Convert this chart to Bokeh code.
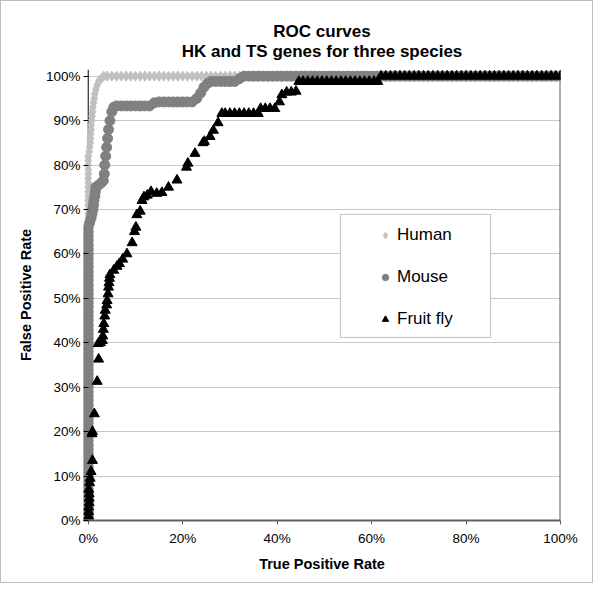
from bokeh.plotting import figure
from bokeh.models import (Range1d, FixedTicker, PrintfTickFormatter, Title, Legend,
                          LegendItem, Span, BoxAnnotation)
from bokeh.embed import file_html
from bokeh.resources import INLINE

# ---------------- data (percent) ----------------
SERIES = ["Human", "Mouse", "Fruit fly"]
TITLE_LINES = ["ROC curves", "HK and TS genes for three species"]
X_TICKS = [0, 20, 40, 60, 80, 100]
Y_TICKS = [0, 10, 20, 30, 40, 50, 60, 70, 80, 90, 100]

human_tpr = [
    0, 0, 0, 0, 0, 0, 0, 0, 0, 0, 0, 0, 0, 0, 0, 0, 0, 0, 0, 0,
    0, 0, 0, 0, 0, 0, 0, 0, 0, 0, 0, 0, 0, 0, 0, 0, 0, 0, 0, 0,
    0, 0, 0, 0, 0, 0, 0, 0, 0, 0, 0, 0, 0, 0, 0, 0, 0, 0, 0, 0,
    0, 0, 0, 0, 0, 0, 0, 0, 0, 0, 0, 0, 0, 0, 0, 0, 0, 0, 0, 0,
    0, 0, 0,
    0.2, 0.3, 0.4, 0.5, 0.5, 0.6, 0.6, 0.7, 0.8, 0.9, 1.0, 1.1, 1.3, 1.4, 1.6, 1.9, 2.3, 2.8, 3.3,
    4, 5, 6, 7, 8, 9, 10, 11, 12, 13, 14, 15, 16, 17, 18, 19, 20, 21, 22, 23, 24, 25, 26, 27,
    28, 29, 30, 31, 32, 33, 34, 35, 36, 37, 38, 39, 40, 41, 42, 43, 44, 45, 46, 47, 48, 49, 50,
    51, 52, 53, 54, 55, 56, 57, 58, 59, 60, 61, 62, 63, 64, 65, 66, 67, 68, 69, 70, 71, 72, 73,
    74, 75, 76, 77, 78, 79, 80, 81, 82, 83, 84, 85, 86, 87, 88, 89, 90, 91, 92, 93, 94, 95, 96,
    97, 98, 99, 100,
]
human_fpr = [
    0, 1, 2, 3, 4, 5, 6, 7, 8, 9, 10, 11, 12, 13, 14, 15, 16, 17, 18, 19,
    20, 21, 22, 23, 24, 25, 26, 27, 28, 29, 30, 31, 32, 33, 34, 35, 36, 37, 38, 39,
    40, 41, 42, 43, 44, 45, 46, 47, 48, 49, 50, 51, 52, 53, 54, 55, 56, 57, 58, 59,
    60, 61, 62, 63, 64, 65, 66, 67, 68, 69, 70, 71, 72, 73, 74, 75, 76, 77, 78, 79,
    80, 81, 82,
    83, 84, 85, 86, 87, 88, 89, 90, 91, 92, 93, 94, 95, 96, 97, 98, 99, 99.5, 100,
    100, 100, 100, 100, 100, 100, 100, 100, 100, 100, 100, 100, 100, 100, 100, 100, 100, 100,
    100, 100, 100, 100, 100, 100, 100, 100, 100, 100, 100, 100, 100, 100, 100, 100, 100, 100,
    100, 100, 100, 100, 100, 100, 100, 100, 100, 100, 100, 100, 100, 100, 100, 100, 100, 100,
    100, 100, 100, 100, 100, 100, 100, 100, 100, 100, 100, 100, 100, 100, 100, 100, 100, 100,
    100, 100, 100, 100, 100, 100, 100, 100, 100, 100, 100, 100, 100, 100, 100, 100, 100, 100,
    100, 100, 100, 100, 100, 100, 100,
]

mouse_tpr = [
    0, 0, 0, 0, 0, 0, 0, 0, 0, 0, 0, 0, 0, 0, 0, 0, 0, 0, 0, 0,
    0, 0, 0, 0, 0, 0, 0, 0, 0, 0, 0, 0, 0, 0, 0, 0, 0, 0, 0, 0,
    0, 0, 0, 0, 0, 0, 0, 0, 0, 0, 0, 0, 0, 0, 0, 0, 0, 0, 0, 0,
    0, 0, 0, 0, 0, 0, 0,
    0.3, 0.6, 0.8, 1.0, 1.1, 1.2, 1.4, 1.5, 1.6, 2.2, 2.8, 3.2, 3.4, 3.5, 3.7, 3.9, 4.1, 4.3,
    4.6, 5.0, 5.4,
    6, 7, 8, 9, 10, 11, 12, 13,
    14, 15, 16, 17, 18, 19, 20, 21, 22,
    23, 23.8, 24.5, 25.3,
    26, 27, 28, 29, 30, 31, 32,
    33, 34, 35, 36, 37, 38, 39, 40, 41, 42, 43, 44, 45, 46, 47, 48, 49, 50, 51, 52, 53, 54,
    55, 56, 57, 58, 59, 60, 61, 62, 63, 64, 65, 66, 67, 68, 69, 70, 71, 72, 73, 74, 75, 76,
    77, 78, 79, 80, 81, 82, 83, 84, 85, 86, 87, 88, 89, 90, 91, 92, 93, 94, 95, 96, 97, 98,
    99, 100,
]
mouse_fpr = [
    0, 1, 2, 3, 4, 5, 6, 7, 8, 9, 10, 11, 12, 13, 14, 15, 16, 17, 18, 19,
    20, 21, 22, 23, 24, 25, 26, 27, 28, 29, 30, 31, 32, 33, 34, 35, 36, 37, 38, 39,
    40, 41, 42, 43, 44, 45, 46, 47, 48, 49, 50, 51, 52, 53, 54, 55, 56, 57, 58, 59,
    60, 61, 62, 63, 64, 65, 66,
    67, 68, 69, 70, 71, 72, 73, 74, 75, 75.5, 76, 76.5, 78, 80, 82, 84, 86, 88,
    90, 92, 93,
    93.3, 93.3, 93.3, 93.3, 93.3, 93.3, 93.3, 93.3,
    94, 94.2, 94.2, 94.2, 94.2, 94.2, 94.2, 94.2, 94.2,
    95, 96.2, 97.5, 98.4,
    98.8, 98.8, 98.8, 98.8, 98.8, 98.8, 99.4,
    100, 100, 100, 100, 100, 100, 100, 100, 100, 100, 100, 100, 100, 100, 100, 100, 100, 100,
    100, 100, 100, 100, 100, 100, 100, 100, 100, 100, 100, 100, 100, 100, 100, 100, 100, 100,
    100, 100, 100, 100, 100, 100, 100, 100, 100, 100, 100, 100, 100, 100, 100, 100, 100, 100,
    100, 100, 100, 100, 100, 100, 100, 100, 100, 100, 100, 100, 100, 100,
]

fly_tpr = [
    0.1, 0.1, 0.1, 0.2, 0.2, 0.2, 0.1, 0.3, 0.4, 0.6, 0.9, 0.8, 0.9, 1.3, 1.9, 2.2, 2.1,
    2.6, 3.0, 3.1, 3.2, 3.3, 3.5, 3.6, 3.9, 4.0, 4.2, 4.3, 4.4, 4.5, 4.6,
    5.4, 6.1, 6.6, 7.3, 8.2, 9.3, 9.8, 10.1, 10.3, 11.0, 11.4, 11.8, 12.5, 13.3,
    14.5, 15.6, 17.0, 18.8, 20.8, 21.1, 22.6, 24.3, 24.6, 25.8, 26.5, 27.5,
    28.3, 29, 30, 31, 32, 33, 34, 35, 36,
    36.5, 37.5, 38.5, 39.5,
    40.5, 41, 42, 43, 44,
    44.6, 45.5, 46.5, 47.5, 48.5, 49.5, 50.5, 51.5, 52.5, 53.5, 54.5, 55.5, 56.5, 57.5,
    58.5, 59.5, 60.5, 61.3,
    62, 63, 64, 65, 66, 67, 68, 69, 70, 71, 72, 73, 74, 75, 76, 77, 78, 79, 80, 81,
    82, 83, 84, 85, 86, 87, 88, 89, 90, 91, 92, 93, 94, 95, 96, 97, 98, 99, 100,
]
fly_fpr = [
    1, 2, 3, 4, 5, 6, 7, 8.5, 9.5, 11, 13.5, 19.5, 20, 24, 31.3, 36.3, 39.8,
    40, 40.5, 41.5, 43, 44.3, 46, 47.3, 48.5, 49.5, 51, 52.5, 53.5, 54.5, 55.3,
    56.3, 57.2, 57.8, 58.8, 60, 62.5, 65, 66, 68.8, 69.6, 72, 72.8, 73.2, 74,
    73.6, 73.8, 75, 76.6, 79.5, 80.4, 82.6, 85, 85.3, 86.4, 87.8, 89.5,
    91.6, 91.6, 91.6, 91.6, 91.6, 91.6, 91.6, 91.6, 91.6,
    92.7, 92.7, 92.7, 92.7,
    94.2, 95.8, 96.4, 96.4, 96.6,
    98.8, 98.8, 98.8, 98.8, 98.8, 98.8, 98.8, 98.8, 98.8, 98.8, 98.8, 98.8, 98.8, 98.8,
    98.8, 98.8, 98.8, 98.8,
    100, 100, 100, 100, 100, 100, 100, 100, 100, 100, 100, 100, 100, 100, 100, 100, 100, 100,
    100, 100, 100, 100, 100, 100, 100, 100, 100, 100, 100, 100, 100, 100, 100, 100, 100, 100,
    100, 100, 100,
]

# ---------------- styling ----------------
FONT = "Liberation Sans"
HUMAN_COLOR = "#c0c0c0"
MOUSE_COLOR = "#808080"
FLY_COLOR = "#000000"

p = figure(frame_width=477, frame_height=451,
           x_range=Range1d(-1, 100), y_range=Range1d(0, 101.5),
           output_backend="svg", toolbar_location=None, title=None,
           min_border_left=82, min_border_right=32, min_border_top=68, min_border_bottom=62)
p.styles = {"border": "1px solid #bdbdbd"}
p.outline_line_color = None
p.background_fill_color = "white"
p.border_fill_color = "white"

p.add_layout(Title(text=TITLE_LINES[1], align="center", text_font=FONT,
                   text_font_size="17px", text_font_style="bold", text_color="black",
                   standoff=18), "above")
p.add_layout(Title(text=TITLE_LINES[0], align="center", text_font=FONT,
                   text_font_size="17px", text_font_style="bold", text_color="black",
                   standoff=-20), "above")

# frame lines
p.add_layout(Span(location=0, dimension="height", line_color="black", line_width=1, level="underlay"))
p.add_layout(Span(location=100, dimension="height", line_color="#606060", line_width=2, level="underlay"))

# glyphs
r_h = p.scatter(human_tpr, human_fpr, marker="diamond", size=10,
                fill_color=HUMAN_COLOR, line_color=HUMAN_COLOR)
r_m = p.scatter(mouse_tpr, mouse_fpr, marker="circle", size=10,
                fill_color=MOUSE_COLOR, line_color=MOUSE_COLOR)
r_f = p.scatter(fly_tpr, fly_fpr, marker="triangle", size=10,
                fill_color=FLY_COLOR, line_color=FLY_COLOR)

# axes
p.xaxis.ticker = FixedTicker(ticks=X_TICKS)
p.yaxis.ticker = FixedTicker(ticks=Y_TICKS)
p.xaxis.formatter = PrintfTickFormatter(format="%d%%")
p.yaxis.formatter = PrintfTickFormatter(format="%d%%")
p.xaxis.minor_tick_line_color = None
p.yaxis.minor_tick_line_color = None
for ax in (p.xaxis, p.yaxis):
    ax.major_label_text_font = FONT
    ax.major_label_text_font_size = "13.5px"
    ax.major_label_text_color = "black"
    ax.axis_label_text_font = FONT
    ax.axis_label_text_font_size = "14.5px"
    ax.axis_label_text_font_style = "bold"
    ax.axis_label_text_color = "black"

p.xaxis.axis_label = "True Positive Rate"
p.xaxis.axis_line_color = "#606060"
p.xaxis.axis_line_width = 2
p.xaxis.major_tick_line_color = "#606060"
p.xaxis.major_tick_in = 0
p.xaxis.major_tick_out = 4
p.xaxis.major_label_standoff = 6
p.xaxis.axis_label_standoff = 7

p.yaxis.axis_label = "False Positive Rate"
p.yaxis.axis_line_color = None
p.yaxis.major_tick_line_color = "black"
p.yaxis.major_tick_in = 5
p.yaxis.major_tick_out = 0
p.yaxis.major_label_standoff = 3
p.yaxis.axis_label_standoff = 9

p.xgrid.visible = False
p.ygrid.grid_line_color = "#c8c8c8"
p.ygrid.grid_line_width = 1

# legend box + legend
p.add_layout(BoxAnnotation(left=53.4, right=85.2, bottom=41.2, top=68.9,
                           fill_color="white", fill_alpha=1.0,
                           line_color="#c0c0c0", line_width=1, line_alpha=1.0))
legend = Legend(items=[LegendItem(label=SERIES[0], renderers=[r_h]),
                       LegendItem(label=SERIES[1], renderers=[r_m]),
                       LegendItem(label=SERIES[2], renderers=[r_f])],
                location=(294, 191), padding=0, spacing=22, margin=0,
                glyph_width=16, glyph_height=16, label_standoff=4, label_height=20,
                border_line_color=None, background_fill_alpha=0,
                label_text_font=FONT, label_text_font_size="17px", label_text_color="black")
p.add_layout(legend, "center")

open("out.html", "w").write(file_html(p, INLINE))
